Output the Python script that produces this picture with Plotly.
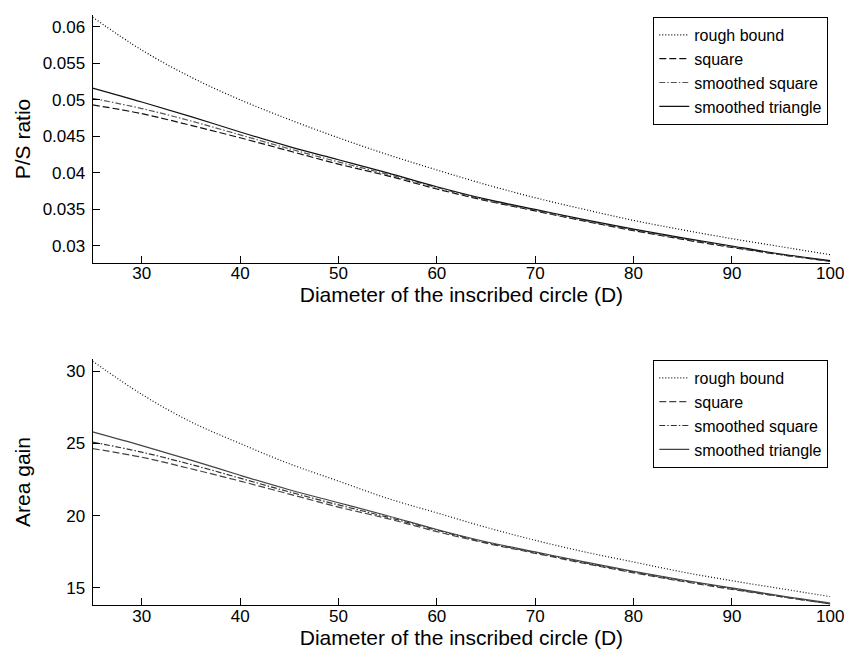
import plotly.graph_objects as go

# ---- data ----
diameter = [25, 30, 35, 40, 45, 50, 55, 60, 65, 70, 75, 80, 85, 90, 95, 100]

ps_rough = [0.0613, 0.0568, 0.0531, 0.0500, 0.0473, 0.0448, 0.0425, 0.0404,
            0.0384, 0.0366, 0.0350, 0.0335, 0.0322, 0.0310, 0.0299, 0.0288]
ps_square = [0.0493, 0.0481, 0.0465, 0.0448, 0.0430, 0.0412, 0.0396, 0.0378,
             0.0362, 0.0348, 0.0334, 0.0321, 0.0309, 0.0298, 0.0288, 0.0279]
ps_smooth_square = [0.0502, 0.0488, 0.0471, 0.0452, 0.0433, 0.0415, 0.0398, 0.0380,
                    0.0363, 0.0349, 0.0335, 0.0322, 0.0310, 0.0299, 0.0288, 0.0279]
ps_smooth_triangle = [0.0516, 0.0497, 0.0477, 0.0456, 0.0436, 0.0418, 0.0400, 0.0381,
                      0.0364, 0.0350, 0.0336, 0.0323, 0.0311, 0.0300, 0.0289, 0.0280]

ag_rough = [30.7, 28.4, 26.5, 25.0, 23.6, 22.4, 21.2, 20.2,
            19.2, 18.3, 17.5, 16.8, 16.1, 15.5, 14.95, 14.4]
ag_square = [24.65, 24.05, 23.25, 22.4, 21.5, 20.6, 19.8, 18.9,
             18.1, 17.4, 16.7, 16.05, 15.45, 14.9, 14.4, 13.9]
ag_smooth_square = [25.1, 24.4, 23.55, 22.6, 21.65, 20.75, 19.9, 19.0,
                    18.15, 17.45, 16.75, 16.1, 15.5, 14.95, 14.4, 13.9]
ag_smooth_triangle = [25.8, 24.85, 23.85, 22.8, 21.8, 20.9, 20.0, 19.05,
                      18.2, 17.5, 16.8, 16.15, 15.55, 15.0, 14.45, 13.95]

series_names = ["rough bound", "square", "smoothed square", "smoothed triangle"]
x_ticks = [30, 40, 50, 60, 70, 80, 90, 100]
ps_ticks = [0.03, 0.035, 0.04, 0.045, 0.05, 0.055, 0.06]
ps_tick_labels = ["0.03", "0.035", "0.04", "0.045", "0.05", "0.055", "0.06"]
ag_ticks = [15, 20, 25, 30]

# ---- styles ----
dashes = ["1px,2px", "7px,3px", "6px,2px,1.5px,2px", "solid"]
top_colors = ["#000000", "#111111", "#555555", "#111111"]
bot_colors = ["#111111", "#444444", "#333333", "#444444"]
FONT = "Liberation Sans, Arial, sans-serif"

fig = go.Figure()

top_series = [ps_rough, ps_square, ps_smooth_square, ps_smooth_triangle]
bot_series = [ag_rough, ag_square, ag_smooth_square, ag_smooth_triangle]

for name, ys, dash, col in zip(series_names, top_series, dashes, top_colors):
    fig.add_trace(go.Scatter(x=diameter, y=ys, name=name, mode="lines",
                             line=dict(color=col, width=1.2, dash=dash, shape="spline"),
                             xaxis="x", yaxis="y", legend="legend"))
for name, ys, dash, col in zip(series_names, bot_series, dashes, bot_colors):
    fig.add_trace(go.Scatter(x=diameter, y=ys, name=name, mode="lines",
                             line=dict(color=col, width=1.2, dash=dash, shape="spline"),
                             xaxis="x2", yaxis="y2", legend="legend2"))

axis_common = dict(showgrid=False, zeroline=False, showline=True, linecolor="#000",
                   linewidth=1, ticks="inside", ticklen=7, tickcolor="#000",
                   tickfont=dict(family=FONT, size=17, color="#000"))
x_common = dict(ticklabelstandoff=-5, **axis_common)
y_common = dict(ticklabelstandoff=3, **axis_common)

xdom = [86 / 852, 836 / 852]
legend_common = dict(bgcolor="white", bordercolor="#000", borderwidth=1,
                     font=dict(family=FONT, size=16, color="#000"),
                     xanchor="right", yanchor="top", tracegroupgap=0)
TITLE_FONT = dict(family=FONT, size=21, color="#000")

fig.update_layout(
    width=852, height=653,
    margin=dict(l=0, r=0, t=0, b=0),
    paper_bgcolor="white", plot_bgcolor="white",
    font=dict(family=FONT, color="#000"),
    xaxis=dict(domain=xdom, range=[25, 100], tickvals=x_ticks, anchor="y",
               title=dict(text="Diameter of the inscribed circle (D)",
                          font=TITLE_FONT, standoff=2),
               **x_common),
    yaxis=dict(domain=[1 - 255 / 653, 1 - 7 / 653], range=[0.02767, 0.0616],
               tickvals=ps_ticks, ticktext=ps_tick_labels, anchor="x",
               title=dict(text="P/S ratio", font=TITLE_FONT, standoff=6),
               **y_common),
    xaxis2=dict(domain=xdom, range=[25, 100], tickvals=x_ticks, anchor="y2",
                title=dict(text="Diameter of the inscribed circle (D)",
                           font=TITLE_FONT, standoff=2),
                **x_common),
    yaxis2=dict(domain=[1 - 597.3 / 653, 1 - 350.7 / 653], range=[13.8, 30.87],
                tickvals=ag_ticks, anchor="x2",
                title=dict(text="Area gain", font=TITLE_FONT, standoff=29),
                **y_common),
    legend=dict(x=834 / 852, y=1 - 9 / 653, **legend_common),
    legend2=dict(x=834 / 852, y=1 - 352 / 653, **legend_common),
    showlegend=True,
)

fig.write_html("out.html")
